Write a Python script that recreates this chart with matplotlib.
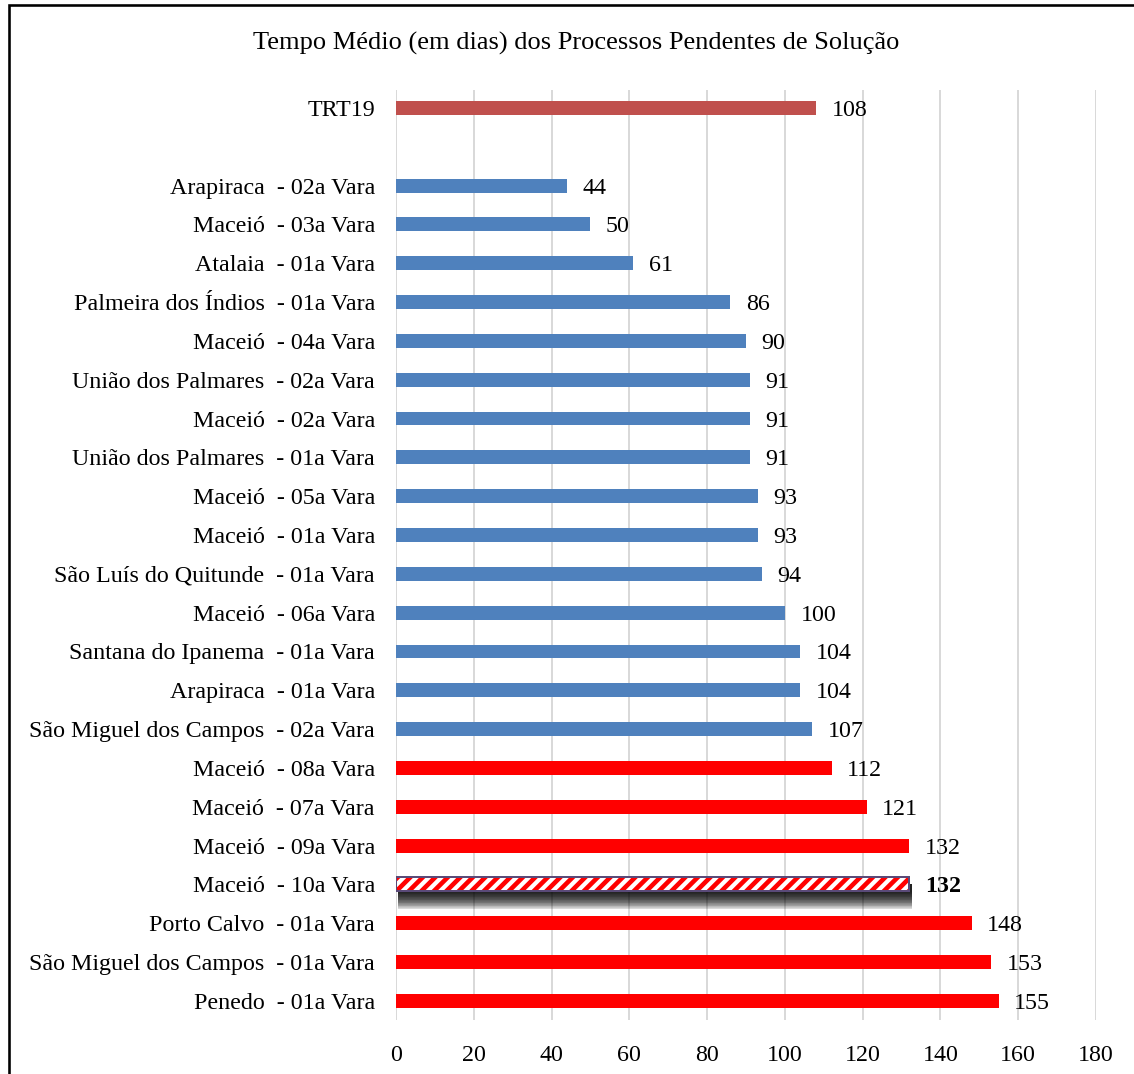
import matplotlib
matplotlib.use("Agg")
import matplotlib.pyplot as plt
from matplotlib.patches import Rectangle

plt.rcParams['font.family'] = ['Liberation Serif', 'DejaVu Serif']

DPI = 75
S = 100 / DPI  # scale point sizes so they look as at dpi 100
PX = 72 / DPI  # points per pixel
plt.rcParams['hatch.linewidth'] = 4.6 * PX

title = "Tempo Médio (em dias) dos Processos Pendentes de Solução"
categories = ["TRT19", "",
              "Arapiraca  - 02a Vara", "Maceió  - 03a Vara", "Atalaia  - 01a Vara",
              "Palmeira dos Índios  - 01a Vara", "Maceió  - 04a Vara",
              "União dos Palmares  - 02a Vara", "Maceió  - 02a Vara",
              "União dos Palmares  - 01a Vara", "Maceió  - 05a Vara", "Maceió  - 01a Vara",
              "São Luís do Quitunde  - 01a Vara", "Maceió  - 06a Vara",
              "Santana do Ipanema  - 01a Vara", "Arapiraca  - 01a Vara",
              "São Miguel dos Campos  - 02a Vara", "Maceió  - 08a Vara",
              "Maceió  - 07a Vara", "Maceió  - 09a Vara", "Maceió  - 10a Vara",
              "Porto Calvo  - 01a Vara", "São Miguel dos Campos  - 01a Vara",
              "Penedo  - 01a Vara"]
values = [108, None, 44, 50, 61, 86, 90, 91, 91, 91, 93, 93, 94, 100, 104, 104, 107,
          112, 121, 132, 132, 148, 153, 155]
labels = ["108", "", "44", "50", "61", "86", "90", "91", "91", "91", "93", "93", "94",
          "100", "104", "104", "107", "112", "121", "132", "132", "148", "153", "155"]
groups = ["trt", None] + ["blue"] * 15 + ["red"] * 3 + ["highlight"] + ["red"] * 3
xticks = [0, 20, 40, 60, 80, 100, 120, 140, 160, 180]

colors = {"trt": "#c0504d", "blue": "#4f81bd", "red": "#ff0000"}

W, H = 1134, 1074
fig = plt.figure(figsize=(W / DPI, H / DPI), dpi=DPI)
ax = fig.add_axes([396 / W, 1 - 1020 / H, (1096 - 396) / W, (1020 - 90) / H])

# outer frame
fig.patches.append(Rectangle((9 / W, -0.05), 1.2, 1 - 5 / H + 0.05, transform=fig.transFigure,
                             fill=False, edgecolor="black", linewidth=2.6 * PX))

fs = 17.3 * S
bh = 0.36
for i, (v, g) in enumerate(zip(values, groups)):
    if v is None:
        continue
    if g == "highlight":
        n = 24
        for k in range(n):
            d = 0.46 * (k + 1) / n
            top = i
            bottom = i + bh / 2 + d
            ax.barh((top + bottom) / 2, v + 0.4, height=bottom - top, left=0.4,
                    color="black", alpha=0.075, linewidth=0, zorder=2)
        ax.barh(i, v, height=bh, color="white", edgecolor="#ff0000", hatch="//",
                linewidth=0, zorder=3)
        ax.barh(i, v, height=bh, fill=False, edgecolor="#5a4a78", linewidth=2 * PX, zorder=4)
        ax.text(v + 4, i, labels[i], va="center_baseline", ha="left", fontsize=fs,
                fontweight="bold", zorder=5)
    else:
        ax.barh(i, v, height=bh, color=colors[g], linewidth=0, zorder=3)
        ax.text(v + 4, i, labels[i], va="center_baseline", ha="left", fontsize=fs, zorder=5)

ax.set_yticks(range(len(categories)))
ax.set_yticklabels(categories, fontsize=fs, va="center_baseline")
ax.set_ylim(23.49, -0.46)
ax.set_xlim(0, 180)
ax.set_xticks(xticks)
ax.set_xticklabels([str(t) for t in xticks], fontsize=fs)
ax.tick_params(axis="both", length=0)
ax.tick_params(axis="y", pad=21 * PX)
ax.tick_params(axis="x", pad=25 * PX)
ax.grid(axis="x", color="#d9d9d9", linewidth=2 * PX, zorder=0)
ax.set_axisbelow(True)
for s in ax.spines.values():
    s.set_visible(False)

fig.text(576 / W, 1 - 43 / H, title, ha="center", va="center", fontsize=19 * S)

fig.savefig("out.png", dpi=DPI)
